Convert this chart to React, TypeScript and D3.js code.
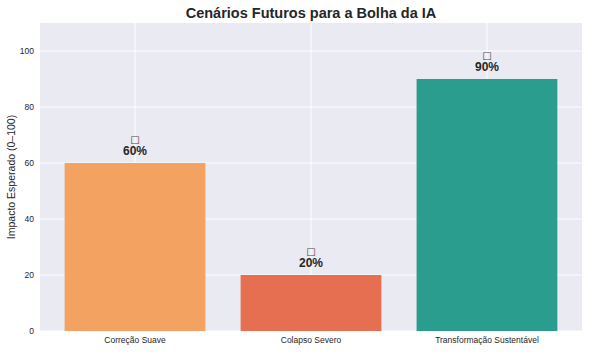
import React from "react";
import * as d3 from "d3";

const categories = ["Correção Suave", "Colapso Severo", "Transformação Sustentável"];
const values = [60, 20, 90];
const colors = ["#F4A261", "#E76F51", "#2A9D8F"];
const labels = ["60%", "20%", "90%"];
const yTicks = [0, 20, 40, 60, 80, 100];

const W = 591, H = 354;
const M = { left: 40, right: 9, top: 23, bottom: 23 };
const FONT = "'Liberation Sans', Arial, sans-serif";

export default function App() {
  const pw = W - M.left - M.right;
  const x = d3.scaleLinear().domain([-0.54, 2.54]).range([M.left, W - M.right]);
  const y = d3.scaleLinear().domain([0, 110]).range([H - M.bottom, M.top]);
  const bw = x(0.4) - x(0);
  return (
    <svg width={W} height={H} style={{ position: "absolute", left: 0, top: 0, fontFamily: FONT }}>
      <rect x={0} y={0} width={W} height={H} fill="#fff" />
      <rect x={M.left} y={M.top} width={pw} height={H - M.top - M.bottom} fill="#EAEAF2" />
      {yTicks.map((t) => (
        <line key={"gy" + t} x1={M.left} x2={W - M.right} y1={y(t)} y2={y(t)} stroke="#fff" strokeWidth={1} />
      ))}
      {categories.map((c, i) => (
        <line key={"gx" + i} x1={x(i)} x2={x(i)} y1={M.top} y2={H - M.bottom} stroke="#fff" strokeWidth={1} />
      ))}
      {categories.map((c, i) => (
        <rect key={"b" + i} x={x(i) - bw} y={y(values[i])} width={bw * 2} height={y(0) - y(values[i])} fill={colors[i]} />
      ))}
      {categories.map((c, i) => (
        <text key={"l" + i} x={x(i)} y={y(values[i]) - 20} textAnchor="middle" fill="#262626">
          <tspan fontSize={10} fill="#444" fontFamily="'DejaVu Sans', sans-serif">□</tspan>
          <tspan x={x(i)} dy={12} fontSize={12} fontWeight="bold">{labels[i]}</tspan>
        </text>
      ))}
      {yTicks.map((t) => (
        <text key={"ty" + t} x={M.left - 6} y={y(t)} dy="0.35em" textAnchor="end" fontSize={8.5} fill="#262626">{t}</text>
      ))}
      {categories.map((c, i) => (
        <text key={"tx" + i} x={x(i)} y={H - M.bottom + 12} textAnchor="middle" fontSize={8.5} fill="#262626">{c}</text>
      ))}
      <text x={(M.left + W - M.right) / 2} y={18} textAnchor="middle" fontSize={14.5} fontWeight="bold" fill="#262626">Cenários Futuros para a Bolha da IA</text>
      <text transform={`translate(15,${(M.top + H - M.bottom) / 2}) rotate(-90)`} textAnchor="middle" fontSize={10.5} fill="#262626">Impacto Esperado (0–100)</text>
    </svg>
  );
}
